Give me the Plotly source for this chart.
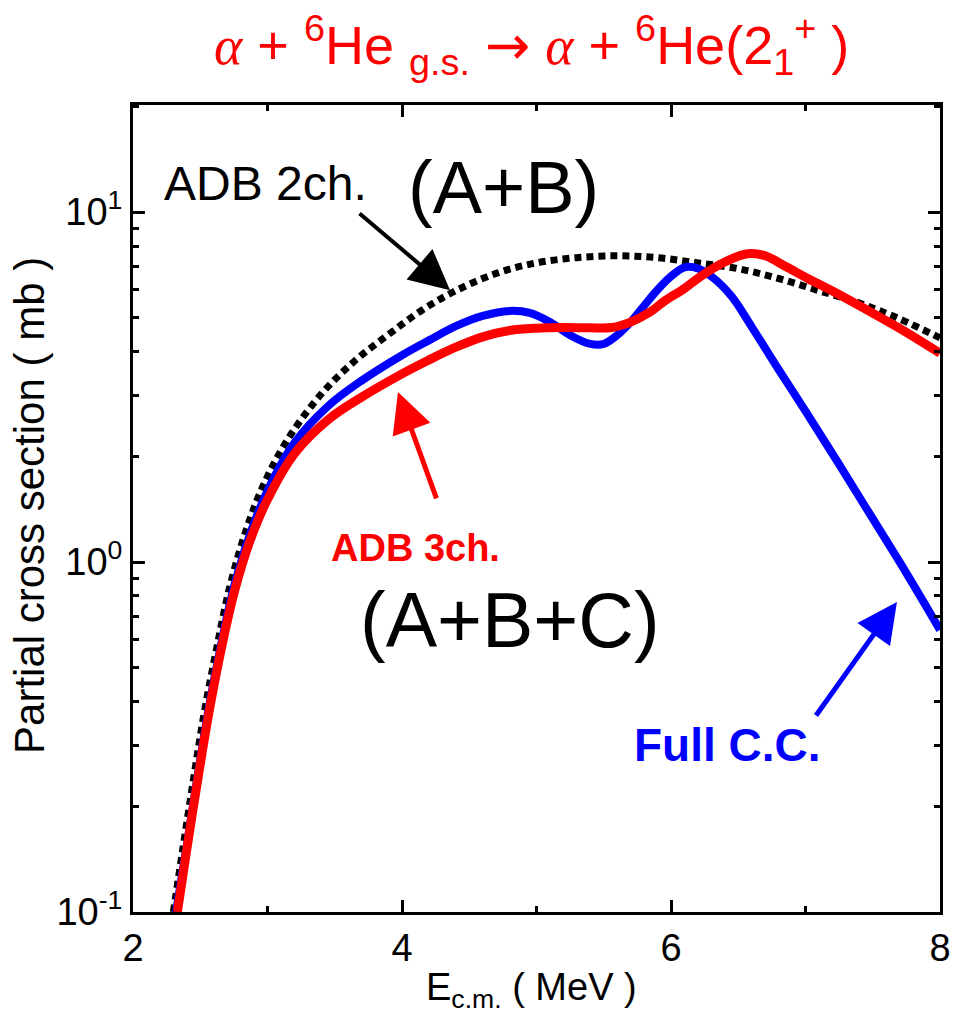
import plotly.graph_objects as go

# ---------------- data ----------------
# ADB 2ch. (A+B)  -- black dotted
adb2_x = [2.30, 2.37, 2.45, 2.53, 2.62, 2.72, 2.84, 2.97, 3.15, 3.40, 3.65, 3.90, 4.15, 4.40, 4.70,
          5.00, 5.30, 5.60, 5.90, 6.20, 6.50, 6.80, 7.10, 7.40, 7.70, 8.00]
adb2_y = [0.100, 0.151, 0.240, 0.372, 0.562, 0.851, 1.23, 1.66, 2.24, 3.02, 3.76, 4.47, 5.25, 5.96, 6.68,
          7.16, 7.41, 7.50, 7.41, 7.16, 6.89, 6.46, 5.96, 5.50, 4.95, 4.37]

# Full C.C.  -- blue
full_x = [2.32, 2.40, 2.48, 2.56, 2.65, 2.75, 2.87, 3.00, 3.20, 3.45, 3.70, 4.00, 4.20, 4.40, 4.60, 4.80,
          4.95, 5.10, 5.25, 5.40, 5.50, 5.60, 5.70, 5.80, 5.90, 6.00, 6.10, 6.20, 6.30, 6.45, 6.60, 6.80,
          7.00, 7.25, 7.50, 7.75, 8.00]
full_y = [0.100, 0.155, 0.244, 0.376, 0.569, 0.847, 1.20, 1.60, 2.19, 2.79, 3.30, 3.90, 4.30, 4.72, 5.05, 5.22,
          5.15, 4.85, 4.45, 4.20, 4.20, 4.45, 4.85, 5.40, 6.00, 6.55, 6.95, 6.90, 6.55, 5.75, 4.70, 3.55,
          2.70, 1.90, 1.33, 0.93, 0.64]

# ADB 3ch. (A+B+C)  -- red
adb3_x = [2.33, 2.40, 2.48, 2.56, 2.65, 2.75, 2.87, 3.00, 3.20, 3.45, 3.70, 4.00, 4.20, 4.40, 4.60, 4.80,
          5.00, 5.20, 5.40, 5.56, 5.70, 5.85, 5.96, 6.10, 6.22, 6.40, 6.57, 6.70, 6.85, 7.02, 7.20, 7.42,
          7.70, 8.00]
adb3_y = [0.100, 0.151, 0.237, 0.363, 0.550, 0.813, 1.15, 1.51, 2.04, 2.55, 2.96, 3.45, 3.78, 4.11, 4.40, 4.59,
          4.66, 4.68, 4.67, 4.68, 4.85, 5.20, 5.60, 6.05, 6.55, 7.20, 7.60, 7.50, 7.00, 6.45, 5.95, 5.35,
          4.65, 3.95]

x_tickvals = [2, 4, 6, 8]
x_minor = [3, 5, 7]
y_tickvals = [0.1, 1, 10]
y_ticktext = ["10<sup>-1</sup>", "10<sup>0</sup>", "10<sup>1</sup>"]
y_minor = [0.2, 0.3, 0.4, 0.5, 0.6, 0.7, 0.8, 0.9, 2, 3, 4, 5, 6, 7, 8, 9, 20]

FONT = "Liberation Sans, Arial, sans-serif"
ALPHA = "<span style=\"font-family:'Liberation Serif';font-style:italic\">α</span>"
ARROW = "<span style=\"font-family:'DejaVu Sans'\">→</span>"

fig = go.Figure()
fig.add_trace(go.Scatter(x=adb2_x, y=adb2_y, mode="lines", line_shape="spline",
                         line=dict(color="black", width=7, dash="7px,5px"), name="ADB 2ch."))
fig.add_trace(go.Scatter(x=full_x, y=full_y, mode="lines", line_shape="spline",
                         line=dict(color="#0000ff", width=8), name="Full C.C."))
fig.add_trace(go.Scatter(x=adb3_x, y=adb3_y, mode="lines", line_shape="spline",
                         line=dict(color="#ff0000", width=9), name="ADB 3ch."))

axis_common = dict(showgrid=False, zeroline=False, showline=True, linecolor="black", linewidth=3,
                   mirror="allticks", ticks="inside", tickcolor="black", tickwidth=3, ticklen=12,
                   automargin=False,
                   tickfont=dict(family=FONT, size=38, color="black"))

fig.update_xaxes(range=[2, 8], tickvals=x_tickvals, ticktext=[str(v) for v in x_tickvals],
                 minor=dict(tickvals=x_minor, ticks="inside", ticklen=6, tickwidth=3, tickcolor="black"),
                 **axis_common)
fig.update_yaxes(type="log", range=[-1, 1.306], tickvals=y_tickvals, ticktext=y_ticktext,
                 minor=dict(tickvals=y_minor, ticks="inside", ticklen=6, tickwidth=3, tickcolor="black"),
                 **axis_common)

ann = []
# title
ann.append(dict(xref="paper", yref="paper", x=0.494, y=1.074, xanchor="center", yanchor="middle",
                showarrow=False,
                text=ALPHA + " + <sup>6</sup>He <sub>g.s.</sub> " + ARROW + " " + ALPHA
                     + " + <sup>6</sup>He(2<sub>1</sub><sup>+</sup> )",
                font=dict(family=FONT, size=54, color="#ff0000")))
# axis titles
ann.append(dict(xref="paper", yref="paper", x=0.494, y=-0.097, xanchor="center", yanchor="middle",
                showarrow=False, text="E<sub>c.m.</sub> ( MeV )",
                font=dict(family=FONT, size=38, color="black")))
ann.append(dict(xref="paper", yref="paper", x=-0.128, y=0.504, xanchor="center", yanchor="middle",
                showarrow=False, text="Partial cross section ( mb )", textangle=-90,
                font=dict(family=FONT, size=42, color="black")))
# curve labels
ann.append(dict(xref="paper", yref="paper", x=(265 - 133) / 807, y=(912 - 183) / 807, xanchor="center", yanchor="middle",
                showarrow=False, text="ADB 2ch.", font=dict(family=FONT, size=48, color="black")))
ann.append(dict(xref="paper", yref="paper", x=(503 - 133) / 807, y=(912 - 188) / 807, xanchor="center", yanchor="middle",
                showarrow=False, text="(A+B)", font=dict(family=FONT, size=74, color="black")))
ann.append(dict(xref="paper", yref="paper", x=(415 - 133) / 807, y=(912 - 548) / 807, xanchor="center", yanchor="middle",
                showarrow=False, text="<b>ADB 3ch.</b>", font=dict(family=FONT, size=38, color="#ff0000")))
ann.append(dict(xref="paper", yref="paper", x=(510 - 133) / 807, y=(912 - 620) / 807, xanchor="center", yanchor="middle",
                showarrow=False, text="(A+B+C)", font=dict(family=FONT, size=77, color="black")))
ann.append(dict(xref="paper", yref="paper", x=(727 - 133) / 807, y=(912 - 745) / 807, xanchor="center", yanchor="middle",
                showarrow=False, text="<b>Full C.C.</b>", font=dict(family=FONT, size=46, color="#0000ff")))
# arrows (tip in data coordinates, log10 for y; tail as pixel offset)
ann.append(dict(x=4.357, y=0.777, xref="x", yref="y", text="", showarrow=True, arrowhead=2,
                arrowsize=2, arrowwidth=4, arrowcolor="black", ax=-92, ay=-78, standoff=0))
ann.append(dict(x=3.97, y=0.486, xref="x", yref="y", text="", showarrow=True, arrowhead=2,
                arrowsize=1.6, arrowwidth=5, arrowcolor="#ff0000", ax=39, ay=108, standoff=0))
ann.append(dict(x=7.68, y=-0.114, xref="x", yref="y", text="", showarrow=True, arrowhead=2,
                arrowsize=1.6, arrowwidth=5, arrowcolor="#0000ff", ax=-82, ay=115, standoff=0))

fig.update_layout(width=953, height=1017, margin=dict(l=133, r=13, t=105, b=105, autoexpand=False),
                  paper_bgcolor="white", plot_bgcolor="white", showlegend=False,
                  annotations=ann)

fig.write_html("out.html")
